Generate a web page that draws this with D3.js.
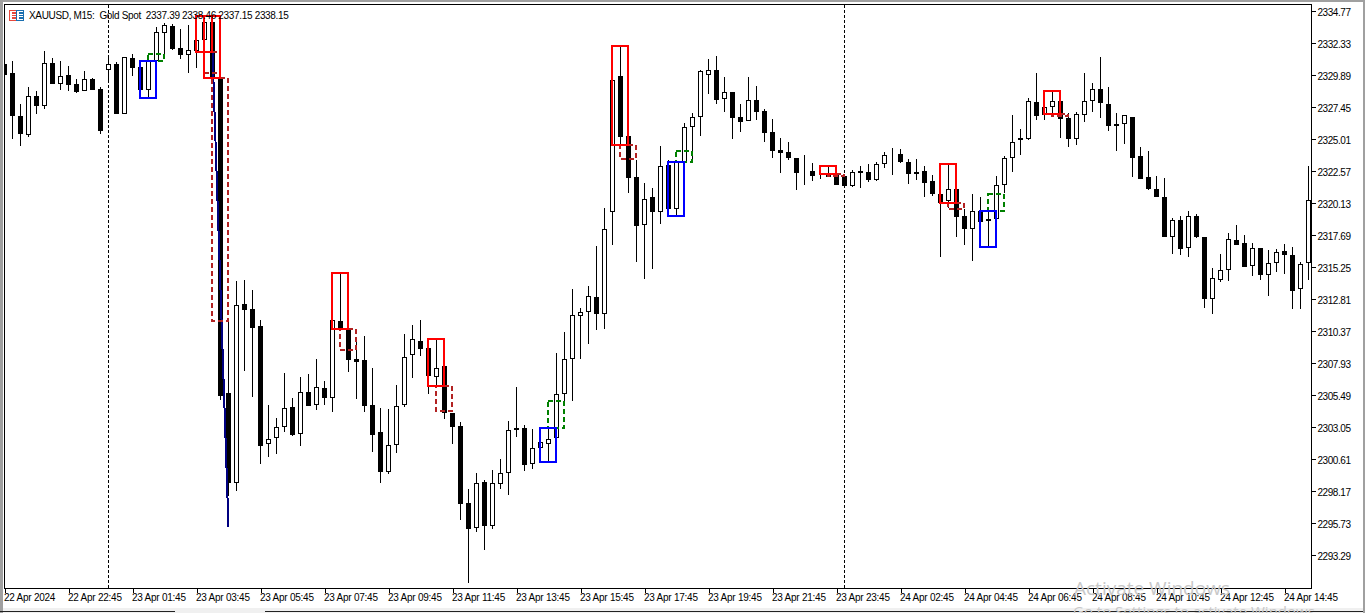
<!DOCTYPE html>
<html><head><meta charset="utf-8">
<script src="https://cdn.jsdelivr.net/npm/d3@7/dist/d3.min.js"></script>
<style>
html,body{margin:0;padding:0;background:#fff;overflow:hidden}
svg{display:block}
text{font-family:"Liberation Sans",Arial,sans-serif;fill:#000}
</style></head><body>
<script>
const symbolTitle = "XAUUSD, M15:  Gold Spot  2337.39 2338.46 2337.15 2338.15";
const priceTicks = [2334.77,2332.33,2329.89,2327.45,2325.01,2322.57,2320.13,2317.69,2315.25,2312.81,2310.37,2307.93,2305.49,2303.05,2300.61,2298.17,2295.73,2293.29];
const timeLabels = ["22 Apr 2024","22 Apr 22:45","23 Apr 01:45","23 Apr 03:45","23 Apr 05:45","23 Apr 07:45","23 Apr 09:45","23 Apr 11:45","23 Apr 13:45","23 Apr 15:45","23 Apr 17:45","23 Apr 19:45","23 Apr 21:45","23 Apr 23:45","24 Apr 02:45","24 Apr 04:45","24 Apr 06:45","24 Apr 08:45","24 Apr 10:45","24 Apr 12:45","24 Apr 14:45"];
const sessionBars = [13,105];

const opens = [2330.75,2330.06,2326.78,2325.34,2328.31,2327.55,2330.83,2329.22,2329.91,2329.22,2328.69,2329.61,2328.84,2330.29,2330.75,2326.93,2331.21,2330.52,2328.77,2330.98,2333.11,2333.65,2331.97,2331.44,2331.74,2332.58,2333.96,2329.76,2305.66,2298.80,2312.45,2312.07,2310.77,2301.77,2302.23,2303.07,2304.60,2302.53,2305.74,2304.75,2306.05,2305.28,2311.15,2310.62,2308.26,2308.18,2304.75,2302.69,2299.64,2301.70,2304.75,2308.56,2309.63,2309.09,2306.89,2307.72,2304.14,2303.15,2297.28,2295.37,2298.88,2295.52,2298.72,2299.56,2302.84,2303.00,2300.25,2301.47,2301.77,2302.23,2305.58,2308.26,2311.53,2311.84,2312.99,2311.69,2319.47,2329.83,2325.26,2322.14,2318.48,2320.61,2319.47,2323.05,2319.69,2323.20,2325.95,2326.71,2329.91,2330.29,2328.08,2328.62,2326.71,2326.40,2328.01,2327.16,2325.57,2324.19,2324.04,2323.58,2322.52,2322.59,2322.44,2322.36,2322.44,2322.21,2321.45,2322.59,2322.52,2321.91,2323.12,2323.89,2323.89,2323.28,2322.36,2322.59,2321.83,2320.84,2320.30,2321.22,2319.16,2318.17,2319.54,2318.78,2318.93,2321.53,2323.58,2325.11,2325.03,2327.85,2326.86,2327.47,2327.93,2326.63,2325.03,2326.86,2327.93,2328.84,2327.70,2326.18,2326.18,2326.71,2323.74,2322.14,2321.22,2320.61,2317.56,2318.86,2316.72,2319.16,2317.56,2312.83,2314.28,2315.04,2317.33,2317.10,2315.35,2316.72,2314.66,2315.58,2316.49,2316.19,2313.59,2315.58];
const highs = [2330.83,2330.98,2327.70,2329.00,2328.69,2331.74,2331.21,2330.98,2330.60,2329.61,2330.21,2329.68,2329.00,2331.36,2330.91,2331.28,2331.51,2330.52,2331.06,2333.58,2333.88,2333.80,2333.42,2333.73,2332.58,2334.41,2334.41,2329.76,2311.08,2314.20,2314.28,2313.52,2311.23,2304.75,2303.76,2307.19,2305.28,2306.89,2307.11,2308.26,2306.58,2311.23,2314.81,2310.62,2309.71,2310.01,2307.57,2304.52,2304.45,2306.27,2310.17,2310.85,2311.23,2309.09,2309.71,2307.72,2304.14,2303.45,2298.34,2299.56,2299.03,2299.79,2300.64,2303.53,2306.12,2303.23,2302.92,2301.93,2303.00,2308.71,2310.32,2313.59,2312.15,2313.82,2316.88,2319.77,2329.53,2332.12,2325.26,2323.43,2321.68,2321.30,2324.50,2323.43,2323.43,2326.25,2327.01,2330.29,2331.13,2331.36,2329.76,2328.62,2327.70,2329.76,2329.07,2327.32,2326.56,2325.11,2324.81,2323.58,2323.81,2323.20,2322.98,2322.98,2322.44,2322.21,2322.67,2322.98,2323.12,2323.28,2324.04,2324.35,2324.27,2323.51,2323.51,2322.98,2322.29,2320.84,2323.12,2321.22,2319.69,2320.84,2320.61,2319.54,2322.21,2323.74,2326.86,2325.79,2328.16,2330.06,2327.47,2328.62,2327.93,2327.01,2327.09,2330.06,2329.30,2331.28,2329.00,2327.01,2326.86,2326.71,2324.43,2324.11,2322.21,2322.06,2319.01,2319.16,2319.54,2319.32,2317.56,2315.20,2316.26,2317.86,2318.48,2317.71,2317.10,2316.72,2316.57,2316.65,2317.03,2316.80,2315.65,2322.98];
const lows = [2329.83,2325.03,2324.50,2325.19,2326.93,2327.32,2329.22,2328.77,2328.69,2328.54,2328.69,2328.77,2325.41,2329.53,2326.93,2326.93,2329.83,2328.77,2328.16,2330.91,2331.51,2331.82,2331.13,2330.06,2330.44,2332.58,2329.68,2305.13,2297.81,2298.19,2307.34,2305.36,2300.25,2300.79,2301.01,2302.69,2302.38,2301.62,2304.67,2304.37,2304.75,2304.22,2310.54,2307.27,2305.21,2304.22,2301.17,2298.80,2299.49,2301.09,2304.60,2306.81,2308.49,2305.58,2306.12,2303.68,2301.77,2295.98,2291.18,2295.07,2293.69,2295.29,2298.34,2297.89,2302.31,2299.72,2299.87,2301.47,2300.41,2302.23,2305.05,2305.05,2308.26,2309.40,2310.47,2310.54,2316.95,2324.58,2320.91,2315.65,2314.36,2315.12,2318.55,2319.69,2319.24,2323.20,2323.28,2325.26,2328.46,2327.70,2327.09,2325.03,2325.57,2326.40,2326.48,2324.81,2323.58,2322.44,2323.43,2321.14,2321.53,2321.83,2321.98,2322.14,2321.53,2321.37,2321.37,2321.30,2321.76,2321.83,2322.82,2322.29,2323.20,2321.60,2321.91,2320.61,2320.69,2316.03,2319.77,2317.56,2316.95,2315.73,2318.70,2316.80,2318.93,2320.91,2322.52,2323.81,2324.96,2326.48,2326.48,2327.01,2325.11,2324.43,2324.58,2326.33,2327.09,2326.63,2325.64,2324.11,2324.65,2322.14,2321.98,2321.14,2320.61,2317.56,2316.26,2316.19,2316.03,2317.48,2312.15,2311.69,2314.13,2314.20,2316.95,2315.27,2314.59,2314.28,2313.06,2314.89,2314.74,2312.07,2312.07,2314.28];
const closes = [2329.91,2326.78,2325.41,2328.31,2327.55,2330.83,2329.22,2329.83,2329.15,2328.62,2329.61,2328.77,2325.64,2330.75,2326.93,2331.28,2330.44,2328.77,2330.98,2333.19,2333.73,2331.89,2331.44,2331.82,2332.58,2333.96,2329.68,2305.43,2298.80,2312.38,2311.99,2310.62,2301.62,2302.15,2303.07,2304.52,2302.46,2305.74,2304.67,2306.12,2305.28,2311.23,2310.54,2308.18,2308.03,2304.67,2302.46,2299.64,2301.70,2304.67,2308.41,2309.78,2309.02,2306.96,2307.57,2304.14,2303.07,2297.20,2295.29,2298.80,2295.52,2298.80,2299.56,2302.84,2303.00,2300.18,2301.47,2301.93,2302.15,2305.58,2308.26,2311.61,2311.84,2313.06,2311.69,2318.17,2329.53,2325.19,2322.06,2318.40,2320.46,2319.47,2322.98,2319.69,2323.28,2325.95,2326.71,2330.21,2330.29,2328.01,2328.62,2326.63,2326.33,2328.01,2327.09,2325.49,2324.11,2323.96,2323.58,2322.44,2322.44,2322.21,2322.36,2322.14,2321.53,2321.45,2322.52,2322.44,2321.91,2323.12,2323.81,2323.81,2323.28,2322.36,2322.52,2321.68,2320.84,2320.15,2321.22,2319.09,2318.17,2319.54,2318.70,2318.93,2321.53,2323.58,2324.81,2324.96,2327.93,2326.78,2327.47,2327.93,2326.56,2325.03,2326.93,2327.93,2328.84,2327.78,2326.03,2326.03,2326.86,2323.58,2321.98,2321.22,2320.61,2317.56,2318.86,2316.65,2319.16,2317.56,2312.83,2314.43,2315.04,2317.41,2316.95,2315.27,2316.72,2314.66,2315.58,2316.42,2316.19,2313.44,2315.50,2320.38];

// zones: [first bar, last bar, upper price, lower price]
const blueZones = [[17,19,2330.98,2328.16],[67,69,2303.00,2300.41],[83,85,2323.28,2319.16],[122,124,2319.54,2316.80]];
const redZones = [[24,26,2334.41,2331.67],[25,27,2334.41,2329.68],[41,43,2314.81,2310.54],[53,55,2309.78,2306.20],[76,78,2332.12,2324.58],[102,104,2322.98,2322.36],[117,119,2323.12,2320.15],[130,132,2328.69,2326.93]];
const brownZones = [[26,28,2329.68,2311.15],[25,27,2331.67,2330.06],[42,44,2310.54,2308.94],[54,56,2306.20,2304.29],[77,79,2324.58,2323.51],[103,105,2322.36,2322.21],[118,120,2320.15,2319.69],[131,133,2326.93,2326.78]];
const greenZones = [[18,20,2331.51,2330.98],[68,70,2305.05,2303.00],[84,86,2324.11,2323.28],[123,125,2320.84,2319.54]];
const trendBars = [26,28];
const trendPrices = [2331.67,2295.45];

const W=1365,H=613, L=4.5, T=4.5, R=1311.5, B=588.5;
const svg=d3.select("body").append("svg").attr("width",W).attr("height",H);
const x=d3.scaleLinear().domain([0,163]).range([4.5,1308.5]);
const y=d3.scaleLinear().domain([2334.77,2293.29]).range([11.3,555.3]);
const ry=p=>Math.round(y(p));

// window chrome
svg.append("rect").attr("x",0).attr("y",0).attr("width",W).attr("height",2).attr("fill","#a0a0a0");
svg.append("rect").attr("x",0).attr("y",0).attr("width",3).attr("height",H).attr("fill","#a0a0a0");
svg.append("rect").attr("x",W-2).attr("y",0).attr("width",2).attr("height",H).attr("fill","#a0a0a0");
svg.append("rect").attr("x",3).attr("y",608).attr("width",W-5).attr("height",5).attr("fill","#f0f0f0");
svg.append("path").attr("d","M0 611.5H175M265 611.5H1363").attr("stroke","#222").attr("fill","none");

svg.append("defs").append("clipPath").attr("id","plot").append("rect").attr("x",L).attr("y",T).attr("width",R-L).attr("height",B-T);
const plot=svg.append("g").attr("clip-path","url(#plot)");

// session separators
plot.selectAll("line.sep").data(sessionBars).join("line").attr("class","sep")
 .attr("x1",d=>x(d)).attr("x2",d=>x(d)).attr("y1",T).attr("y2",B)
 .attr("stroke","#000").attr("stroke-dasharray","3,2").attr("shape-rendering","crispEdges");

// candles
const idx=d3.range(opens.length);
const cg=plot.append("g").attr("shape-rendering","crispEdges");
cg.selectAll("line.wick").data(idx).join("line").attr("class","wick")
 .attr("x1",i=>x(i)).attr("x2",i=>x(i)).attr("y1",i=>ry(highs[i])).attr("y2",i=>ry(lows[i]))
 .attr("stroke","#000");
cg.selectAll("rect.body").data(idx).join("rect").attr("class","body")
 .attr("x",i=>x(i)-2).attr("width",4)
 .attr("y",i=>ry(Math.max(opens[i],closes[i]))+.5)
 .attr("height",i=>Math.max(0,ry(Math.min(opens[i],closes[i]))-ry(Math.max(opens[i],closes[i]))-1))
 .attr("fill",i=>closes[i]>opens[i]?"#fff":"#000").attr("stroke","#000");

// diagonal blue line
plot.append("line").attr("x1",x(trendBars[0])).attr("x2",x(trendBars[1]))
 .attr("y1",y(trendPrices[0])).attr("y2",y(trendPrices[1]))
 .attr("stroke","#000080").attr("stroke-width",2).attr("shape-rendering","crispEdges");

// title first so that zones overlay it
svg.append("text").attr("x",29).attr("y",19).attr("font-size","10px").attr("letter-spacing","-0.33px").style("white-space","pre").text(symbolTitle);

function zones(data,color,dash){
 plot.append("g").attr("shape-rendering","crispEdges").selectAll("rect").data(data).join("rect")
  .attr("x",d=>x(d[0])-.5).attr("width",d=>x(d[1])-x(d[0]))
  .attr("y",d=>ry(d[2])).attr("height",d=>ry(d[3])-ry(d[2]))
  .attr("fill","none").attr("stroke",color).attr("stroke-width",2)
  .attr("stroke-dasharray",dash||null);
}
zones(brownZones,"#b22222","5,3");
zones(greenZones,"#008000","5,3");
zones(blueZones,"#0000ff");
zones(redZones,"#ff0000");

// axes
const yAxis=d3.axisRight(y).tickValues(priceTicks).tickFormat(d3.format(".2f")).tickSize(4).tickPadding(2);
const gy=svg.append("g").attr("transform",`translate(${R},0)`).attr("shape-rendering","crispEdges").call(yAxis);
gy.select(".domain").remove();
gy.selectAll("text").attr("font-size","10px").attr("letter-spacing","-0.45px").attr("y",0.8);
gy.selectAll(".tick line").attr("stroke","#000");
const tickBars=timeLabels.map((d,i)=>i*8);
const xAxis=d3.axisBottom(x).tickValues(tickBars).tickFormat((d,i)=>timeLabels[i]).tickSize(4).tickPadding(2);
const gx=svg.append("g").attr("transform",`translate(0,${B})`).attr("shape-rendering","crispEdges").call(xAxis);
gx.select(".domain").remove();
gx.selectAll("text").attr("font-size","10px").attr("letter-spacing","-0.25px").attr("text-anchor","start").attr("dx","-1").attr("y",5);
gx.selectAll(".tick line").attr("stroke","#000");
svg.append("rect").attr("x",L).attr("y",T).attr("width",R-L).attr("height",B-T).attr("fill","none").attr("stroke","#000").attr("shape-rendering","crispEdges");

// icon
const ic=svg.append("g").attr("shape-rendering","crispEdges");
[[9.5,"#e8483c"],[16.5,"#1a6fb0"]].forEach(([ix,c])=>{
 ic.append("rect").attr("x",ix).attr("y",10.5).attr("width",7).attr("height",10).attr("fill","#fff").attr("stroke",c);
 [13,15.5,18].forEach(ly=>ic.append("line").attr("x1",ix+2).attr("x2",ix+6).attr("y1",ly).attr("y2",ly).attr("stroke",c).attr("stroke-width",1.5));
});

// OS watermark
svg.append("text").attr("x",1074).attr("y",595).style("font-family","'Open Sans'").style("fill","#c8c8c8").attr("font-size","19px").text("Activate Windows");
svg.append("text").attr("x",1073).attr("y",617).style("font-family","'Open Sans'").style("fill","#c8c8c8").attr("font-size","15px").text("Go to Settings to activate Windows");
</script>
</body></html>
